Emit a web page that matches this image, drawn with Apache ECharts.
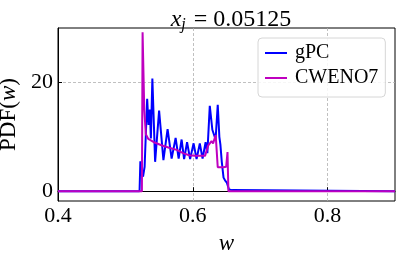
<!DOCTYPE html>
<html>
<head>
<meta charset="utf-8">
<script src="https://cdn.jsdelivr.net/npm/echarts@6/dist/echarts.min.js"></script>
<style>html,body{margin:0;padding:0;background:#fff}#c{width:400px;height:256px}</style>
</head>
<body>
<div id="c"></div>
<script>
const gpcW =   [0.40, 0.5210, 0.5222, 0.5240, 0.5262, 0.5285, 0.5323, 0.5343, 0.5363, 0.5378, 0.5400, 0.5441, 0.5500, 0.5564, 0.5626, 0.5686, 0.5745, 0.5790, 0.5834, 0.5871, 0.5915, 0.5960, 0.6012, 0.6056, 0.6104, 0.6145, 0.6190, 0.6216, 0.6252, 0.6290, 0.6315, 0.6338, 0.6370, 0.6394, 0.6410, 0.6430, 0.6456, 0.6478, 0.6504, 0.6523, 0.6538, 0.6585, 0.6600, 0.90];
const gpcPdf = [0,    0,      5.5,    3.2,    2.7,    4.5,    17.0,   12.2,   15.0,   9.7,    20.7,   5.4,    14.8,   5.7,    11.4,   6.0,    9.8,    6.0,    9.5,    5.9,    9.0,    5.9,    8.8,    5.9,    8.8,    6.0,    9.0,    7.0,    15.7,   11.3,   11.5,   9.5,    15.9,   10.0,   8.5,    5.4,    2.5,    2.0,    1.6,    1.8,    0.3,    0.2,    0,      0];
const cwenoW =   [0.40, 0.5245, 0.5255, 0.5280, 0.5303, 0.5340, 0.5441, 0.5545, 0.5649, 0.5760, 0.5856, 0.5945, 0.6034, 0.6182, 0.6227, 0.6278, 0.6301, 0.6340, 0.6370, 0.6456, 0.6495, 0.6515, 0.6528, 0.90];
const cwenoPdf = [0,    0,      29.2,   15.0,   10.5,   9.6,    8.9,    8.4,    8.0,    7.6,    7.0,    6.6,    6.5,    6.5,    8.4,    9.2,    8.8,    10.3,   4.4,    4.4,    4.5,    7.2,    0,      0];
const xTicks = [0.4, 0.6, 0.8];
const yTicks = [0, 20];
const seriesNames = ['gPC', 'CWENO7'];

const serif = 'Liberation Serif';
const pairs = (xs, ys) => xs.map((x, i) => [x, ys[i]]);
const chart = echarts.init(document.getElementById('c'), null, {renderer: 'canvas'});
chart.setOption({
  animation: false,
  backgroundColor: '#fff',
  title: {
    text: '{i|x}{s|j}{n| = 0.05125}',
    left: 226, textAlign: 'center', top: 1,
    textStyle: {
      fontWeight: 'normal',
      rich: {
        i: {fontFamily: serif, fontStyle: 'italic', fontWeight: 'normal', fontSize: 24, lineHeight: 27, color: '#000'},
        s: {fontFamily: serif, fontStyle: 'italic', fontWeight: 'normal', fontSize: 16, lineHeight: 16, verticalAlign: 'bottom', color: '#000', padding: [0, 2, 0, 0]},
        n: {fontFamily: serif, fontWeight: 'normal', fontSize: 24, lineHeight: 27, color: '#000'}
      }
    }
  },
  grid: {left: 58, right: 5, top: 28, bottom: 55, outerBoundsMode: 'none', containLabel: false,
         show: true, borderColor: '#000', borderWidth: 1, backgroundColor: 'transparent'},
  legend: {
    orient: 'vertical', left: 258, top: 38,
    padding: [5, 7, 9, 7], itemGap: 5, itemWidth: 22, itemHeight: 2,
    icon: 'rect',
    backgroundColor: 'rgba(255,255,255,0.85)', borderColor: '#d6d6d6', borderWidth: 1, borderRadius: 4,
    textStyle: {fontFamily: serif, fontSize: 20, color: '#000', lineHeight: 20, padding: [0, 0, 0, 3]},
    data: seriesNames
  },
  xAxis: {
    type: 'value', min: 0.4, max: 0.9, interval: 0.2,
    name: '{i|w}', nameLocation: 'middle', nameGap: 31,
    nameTextStyle: {rich: {i: {fontFamily: serif, fontStyle: 'italic', fontSize: 23, color: '#000'}}},
    axisLine: {show: true, lineStyle: {color: '#000', width: 1}},
    axisTick: {show: true, inside: true, length: 4, lineStyle: {color: '#000'}, customValues: xTicks},
    axisLabel: {fontFamily: serif, fontSize: 22, color: '#000', margin: 4, customValues: xTicks, formatter: v => v.toFixed(1)},
    splitLine: {show: true, lineStyle: {color: '#b0b0b0', type: [3, 2], width: 0.8}}
  },
  yAxis: {
    type: 'value', min: -1.8, max: 30,
    name: 'PDF({i|w})', nameLocation: 'middle', nameGap: 34, nameRotate: 90,
    nameTextStyle: {fontFamily: serif, fontSize: 23, color: '#000', rich: {i: {fontFamily: serif, fontStyle: 'italic', fontSize: 23, color: '#000'}}},
    axisLine: {show: true, lineStyle: {color: '#000', width: 1}},
    axisTick: {show: true, inside: true, length: 4, lineStyle: {color: '#000'}, customValues: yTicks},
    axisLabel: {fontFamily: serif, fontSize: 22, color: '#000', margin: 5, customValues: yTicks},
    splitLine: {show: true, lineStyle: {color: '#b0b0b0', type: [3, 2], width: 0.8}}
  },
  series: [
    {name: seriesNames[0], type: 'line', data: pairs(gpcW, gpcPdf), showSymbol: false, symbol: 'none',
     lineStyle: {color: '#0000ff', width: 2}, itemStyle: {color: '#0000ff'}, z: 2},
    {name: seriesNames[1], type: 'line', data: pairs(cwenoW, cwenoPdf), showSymbol: false, symbol: 'none',
     lineStyle: {color: '#bf00bf', width: 2}, itemStyle: {color: '#bf00bf'}, z: 3}
  ]
});
</script>
</body>
</html>
